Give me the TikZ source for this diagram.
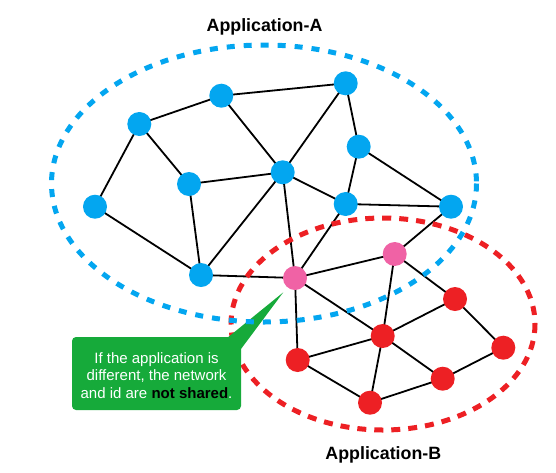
\documentclass[tikz,border=0pt]{standalone}
\usepackage{fontspec}
\setmainfont{Liberation Sans}
\definecolor{appblue}{RGB}{3,166,240}
\definecolor{appred}{RGB}{237,32,36}
\definecolor{apppink}{RGB}{240,98,165}
\definecolor{callgreen}{RGB}{22,170,58}
\pgfdeclarelayer{edgelayer}
\pgfsetlayers{edgelayer,main}
\begin{document}
\begin{tikzpicture}[x=1pt,y=-1pt,
  dot/.style={circle,minimum size=24pt,inner sep=0pt,draw=none},
  bnode/.style={dot,fill=appblue},
  rnode/.style={dot,fill=appred},
  pnode/.style={dot,fill=apppink},
  link/.style={line width=1.8pt,black},
  title/.style={font=\fontsize{17.8}{20}\selectfont\bfseries,anchor=base,inner sep=0pt},
  calltext/.style={font=\fontsize{15}{17.6}\selectfont,text=white,align=center,inner sep=0pt}]
\useasboundingbox (0,0) rectangle (556,472);
% nodes
\node[bnode] (b1) at (139.3,124) {};
\node[bnode] (b2) at (221.3,95.7) {};
\node[bnode] (b3) at (345.7,83.3) {};
\node[bnode] (b4) at (358.7,146.7) {};
\node[bnode] (b5) at (95,206.7) {};
\node[bnode] (b6) at (189,184) {};
\node[bnode] (b7) at (282.7,172.3) {};
\node[bnode] (b8) at (345.7,204) {};
\node[bnode] (b9) at (451,206.7) {};
\node[bnode] (b10) at (201,275) {};
\node[pnode] (p1) at (295,278) {};
\node[pnode] (p2) at (394.7,254) {};
\node[rnode] (r1) at (455,299) {};
\node[rnode] (r2) at (382.7,336) {};
\node[rnode] (r3) at (297.7,360) {};
\node[rnode] (r4) at (503.3,347.7) {};
\node[rnode] (r5) at (442.7,378.7) {};
\node[rnode] (r6) at (370,402.7) {};
% edges (behind nodes)
\begin{pgfonlayer}{edgelayer}
\foreach \a/\b in {b1/b2,b2/b3,b1/b5,b1/b6,b2/b7,b3/b7,b3/b4,b6/b7,b5/b10,b6/b10,b7/b10,b7/b8,b7/p1,b4/b8,b4/b9,b8/b9,b8/p1,b10/p1,p1/p2,p2/b9,p1/r3,p1/r2,p2/r2,p2/r1,r1/r2,r1/r4,r2/r3,r2/r5,r2/r6,r3/r6,r6/r5,r5/r4}
  \draw[link] (\a.center) -- (\b.center);
\end{pgfonlayer}
% red ellipse
\coordinate (redc) at (383,324);
\draw[appred,line width=5pt,dash pattern=on 9pt off 8pt] (redc) ellipse [x radius=152, y radius=106];
% callout (box with pointer as one shape)
\coordinate (tip) at (283.3,292.3);
\fill[callgreen] (228.3,337) -- (tip) -- (241,349) [rounded corners=4pt] -- (241,410) -- (72,410) -- (72,337) [sharp corners] -- (228.3,337) -- cycle;
\node[calltext] (note) at (156.5,375.5) {If the application is\\different, the network\\and id are \textcolor{black}{\bfseries not shared}.};
% blue ellipse
\coordinate (bluec) at (264,183.5);
\draw[appblue,line width=5pt,dash pattern=on 8pt off 9pt] (bluec) ellipse [x radius=212.5, y radius=138.5];
% titles
\node[title] (ta) at (264.5,31.7) {Application-A};
\node[title] (tb) at (383.3,459.3) {Application-B};
\end{tikzpicture}
\end{document}
